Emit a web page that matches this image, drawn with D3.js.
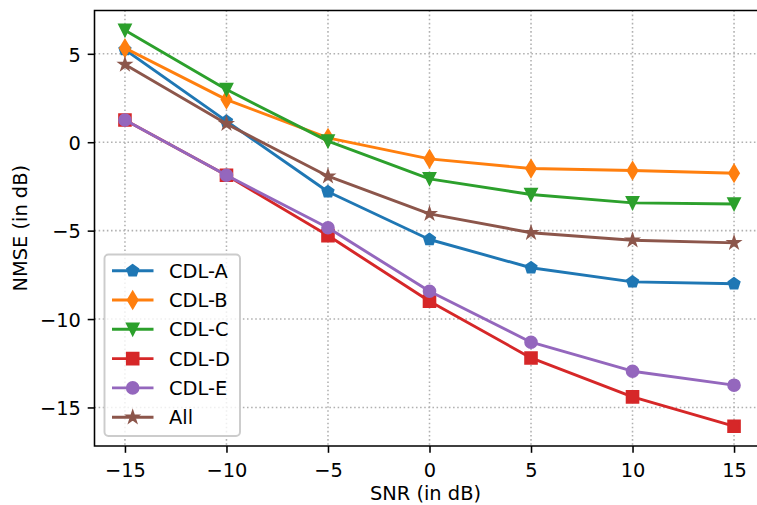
<!DOCTYPE html>
<html>
<head>
<meta charset="utf-8">
<script src="https://cdn.jsdelivr.net/npm/d3@7"></script>
<style>
  html, body { margin: 0; padding: 0; background: #fff; }
  svg { display: block; font-family: "DejaVu Sans", sans-serif; }
</style>
</head>
<body>
<svg id="chart" width="757" height="505"></svg>
<script>
// ---- data ----
const snr = [-15, -10, -5, 0, 5, 10, 15];
const cdlA = [5.24, 1.19, -2.8, -5.5, -7.1, -7.9, -8.0];
const cdlB = [5.32, 2.41, 0.25, -0.94, -1.49, -1.6, -1.75];
const cdlC = [6.33, 2.98, 0.06, -2.07, -2.96, -3.43, -3.49];
const cdlD = [1.26, -1.87, -5.28, -8.99, -12.2, -14.4, -16.06];
const cdlE = [1.26, -1.87, -4.84, -8.43, -11.31, -12.95, -13.74];
const cdlAll = [4.39, 1.04, -1.92, -4.05, -5.12, -5.54, -5.69];
const seriesNames = ["CDL-A", "CDL-B", "CDL-C", "CDL-D", "CDL-E", "All"];
const seriesValues = [cdlA, cdlB, cdlC, cdlD, cdlE, cdlAll];
const seriesColors = ["#1f77b4", "#ff7f0e", "#2ca02c", "#d62728", "#9467bd", "#8c564b"];
const seriesMarkers = ["pentagon", "thin_diamond", "triangle_down", "square", "circle", "star"];
const xTicks = [-15, -10, -5, 0, 5, 10, 15];
const yTicks = [-15, -10, -5, 0, 5];
const xLabel = "SNR (in dB)";
const yLabel = "NMSE (in dB)";

(function () {
// ---- layout ----
const PT = 1.944;             // px per point
const fontSize = 19.4;
const pL = 94.5, pR = 764.5, pT = 10.5, pB = 446;
const ms = 6 * PT;

const svg = d3.select("#chart");

const xPad = (d3.max(snr) - d3.min(snr)) * 0.05;
const x = d3.scaleLinear()
  .domain([d3.min(snr) - xPad, d3.max(snr) + xPad])
  .range([pL, pR]);
const allVals = seriesValues.flat();
const yMin = d3.min(allVals), yMax = d3.max(allVals);
const yPad = (yMax - yMin) * 0.05;
const y = d3.scaleLinear()
  .domain([yMin - yPad, yMax + yPad])
  .range([pB, pT]);

// ---- grid ----
const dash = `${0.8*PT} ${1.65*0.8*PT}`;
const grid = svg.append("g");
grid.selectAll("line.gx").data(xTicks).join("line")
  .attr("x1", d => x(d)).attr("x2", d => x(d))
  .attr("y1", pT).attr("y2", pB)
  .attr("stroke", "#b0b0b0").attr("stroke-width", 0.8 * PT)
  .attr("stroke-dasharray", dash);
grid.selectAll("line.gy").data(yTicks).join("line")
  .attr("x1", pL).attr("x2", pR)
  .attr("y1", d => y(d)).attr("y2", d => y(d))
  .attr("stroke", "#b0b0b0").attr("stroke-width", 0.8 * PT)
  .attr("stroke-dasharray", dash);

// ---- markers ----
function polyPath(pts) {
  return "M" + pts.map(p => p[0].toFixed(2) + "," + p[1].toFixed(2)).join("L") + "Z";
}
function markerPath(type, s) {
  const pts = [];
  if (type === "circle") {
    const r = s / 2;
    return `M${r},0A${r},${r} 0 1,1 ${-r},0A${r},${r} 0 1,1 ${r},0Z`;
  }
  if (type === "square") {
    const h = s / 2;
    return polyPath([[-h, -h], [h, -h], [h, h], [-h, h]]);
  }
  if (type === "triangle_down") {
    const h = s / 2;
    return polyPath([[0, h], [-h, -h], [h, -h]]);
  }
  if (type === "thin_diamond") {
    const a = 0.7071 * s, b = 0.7071 * 0.6 * s;
    return polyPath([[0, -a], [b, 0], [0, a], [-b, 0]]);
  }
  if (type === "pentagon") {
    const r = s / 2;
    for (let i = 0; i < 5; i++) {
      const t = Math.PI / 2 + i * 2 * Math.PI / 5;
      pts.push([r * Math.cos(t), -r * Math.sin(t)]);
    }
    return polyPath(pts);
  }
  if (type === "star") {
    const r = s / 2, ri = r * 0.381966;
    for (let i = 0; i < 10; i++) {
      const t = Math.PI / 2 + i * Math.PI / 5;
      const rr = i % 2 === 0 ? r : ri;
      pts.push([rr * Math.cos(t), -rr * Math.sin(t)]);
    }
    return polyPath(pts);
  }
}

// ---- series ----
const line = d3.line().x(d => x(d[0])).y(d => y(d[1]));
seriesValues.forEach((vals, i) => {
  const g = svg.append("g");
  const pts = snr.map((s, j) => [s, vals[j]]);
  g.append("path").attr("d", line(pts))
    .attr("fill", "none").attr("stroke", seriesColors[i])
    .attr("stroke-width", 1.5 * PT).attr("stroke-linejoin", "round").attr("stroke-linecap", "square");
  g.selectAll("path.m").data(pts).join("path")
    .attr("class", "m")
    .attr("transform", d => `translate(${x(d[0])},${y(d[1])})`)
    .attr("d", markerPath(seriesMarkers[i], ms))
    .attr("fill", seriesColors[i]).attr("stroke", seriesColors[i])
    .attr("stroke-width", 1 * PT).attr("stroke-linejoin", "miter");
});

// ---- axes ----
const tickLen = 3.5 * PT;
const xAxis = svg.append("g").attr("transform", `translate(0,${pB})`)
  .call(d3.axisBottom(x).tickValues(xTicks).tickSize(tickLen).tickPadding(tickLen).tickSizeOuter(0));
const yAxis = svg.append("g").attr("transform", `translate(${pL},0)`)
  .call(d3.axisLeft(y).tickValues(yTicks).tickSize(tickLen).tickPadding(tickLen).tickSizeOuter(0));
[xAxis, yAxis].forEach(a => {
  a.select(".domain").remove();
  a.selectAll(".tick line").attr("stroke", "#000").attr("stroke-width", 0.8 * PT);
  a.selectAll(".tick text").attr("fill", "#000")
    .style("font-family", "'DejaVu Sans', sans-serif").style("font-size", fontSize + "px");
});
xAxis.selectAll(".tick text").attr("dy", "0.9em");
yAxis.selectAll(".tick text").attr("dy", "0.37em");

// spines
const spine = svg.append("g").attr("stroke", "#000").attr("stroke-width", 0.8 * PT)
  .attr("stroke-linecap", "square").attr("fill", "none");
spine.append("path").attr("d", `M${pL},${pB}L${pL},${pT}L${pR},${pT}L${pR},${pB}Z`);

// axis labels
svg.append("text").attr("x", (pL + pR) / 2 - 4).attr("y", 499.5)
  .attr("text-anchor", "middle").style("font-size", fontSize + "px").text(xLabel);
svg.append("text").attr("transform", `translate(26.5,${(pT + pB) / 2}) rotate(-90)`)
  .attr("text-anchor", "middle").style("font-size", fontSize + "px").text(yLabel);

// ---- legend ----
const lg = svg.append("g");
const lgX = 104.5, lgY = 254.5, lgW = 135.5, lgH = 181.5;
lg.append("rect").attr("x", lgX).attr("y", lgY).attr("width", lgW).attr("height", lgH)
  .attr("rx", 4).attr("ry", 4)
  .attr("fill", "#fff").attr("fill-opacity", 0.8)
  .attr("stroke", "#cccccc").attr("stroke-width", 1 * PT);
const rowH = 29.3, row0 = 270.7;
seriesNames.forEach((name, i) => {
  const cy = row0 + i * rowH;
  lg.append("line").attr("x1", 112).attr("x2", 153.5).attr("y1", cy).attr("y2", cy)
    .attr("stroke", seriesColors[i]).attr("stroke-width", 1.5 * PT);
  lg.append("path").attr("transform", `translate(132.7,${cy})`)
    .attr("d", markerPath(seriesMarkers[i], ms))
    .attr("fill", seriesColors[i]).attr("stroke", seriesColors[i]).attr("stroke-width", 1 * PT);
  lg.append("text").attr("x", 169).attr("y", cy).attr("dy", "0.37em")
    .style("font-size", fontSize + "px").attr("fill", "#000").text(name);
});
})();
</script>
</body>
</html>
